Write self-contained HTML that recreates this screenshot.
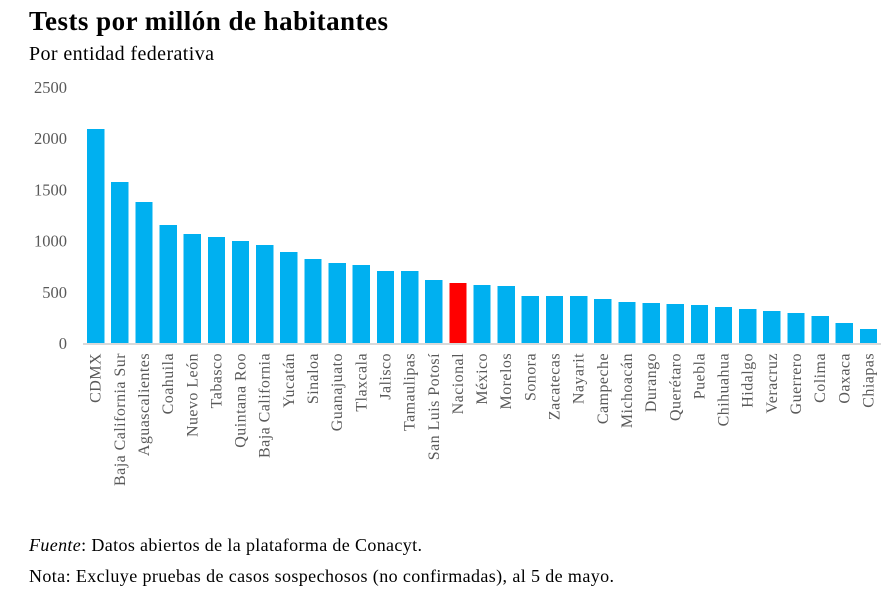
<!DOCTYPE html>
<html lang="es">
<head>
<meta charset="utf-8">
<title>Tests por millón de habitantes</title>
<style>
html,body{margin:0;padding:0;background:#fff;}
#chart{display:block;width:894px;height:595px;font-family:"Liberation Serif",serif;}
</style>
</head>
<body>
<svg id="chart" xmlns="http://www.w3.org/2000/svg" width="894" height="595" viewBox="0 0 894 595">
<text x="29" y="30" font-size="27" font-weight="bold" fill="#000" textLength="359" lengthAdjust="spacing">Tests por millón de habitantes</text>
<text x="29" y="60" font-size="20" fill="#000" textLength="185" lengthAdjust="spacing">Por entidad federativa</text>
<g id="y-axis"></g>
<g id="bars"></g>
<rect x="83" y="343" width="798" height="2" fill="#d9d9d9"></rect>
<g id="x-axis"></g>
<text x="29" y="551" font-size="18" fill="#000" textLength="393" lengthAdjust="spacing"><tspan font-style="italic">Fuente</tspan>: Datos abiertos de la plataforma de Conacyt.</text>
<text x="29" y="582" font-size="18" fill="#000" textLength="585" lengthAdjust="spacing">Nota: Excluye pruebas de casos sospechosos (no confirmadas), al 5 de mayo.</text>
</svg>
<script>
const categories = ["CDMX","Baja California Sur","Aguascalientes","Coahuila","Nuevo León","Tabasco","Quintana Roo","Baja California","Yucatán","Sinaloa","Guanajuato","Tlaxcala","Jalisco","Tamaulipas","San Luis Potosí","Nacional","México","Morelos","Sonora","Zacatecas","Nayarit","Campeche","Michoacán","Durango","Querétaro","Puebla","Chihuahua","Hidalgo","Veracruz","Guerrero","Colima","Oaxaca","Chiapas"];
const testsPerMillion = [2090,1572,1377,1152,1064,1035,996,957,889,820,781,762,703,703,615,586,566,557,459,459,459,430,400,391,381,371,352,332,312,293,264,195,137];
const highlightCategory = "Nacional";
const yTicks = [0,500,1000,1500,2000,2500];

const SVG_NS = "http://www.w3.org/2000/svg";
const plotLeft = 87, bandStep = 24.15, barWidth = 17.3, baseY = 343, pxPerUnit = 0.1024;
function xScale(i){ return plotLeft + bandStep * i; }
function yScale(v){ return baseY - v * pxPerUnit; }

const yGroup = document.getElementById("y-axis");
yTicks.forEach(function(t){
  const el = document.createElementNS(SVG_NS, "text");
  
  
  el.setAttribute("x", 67);
  el.setAttribute("y", yScale(t) + 6);
  el.setAttribute("text-anchor", "end");
  el.setAttribute("font-size", "16.5");
  el.setAttribute("fill", "#595959");
  el.textContent = String(t);
  yGroup.appendChild(el);
});

const barGroup = document.getElementById("bars");
const xGroup = document.getElementById("x-axis");
categories.forEach(function(name, i){
  const rect = document.createElementNS(SVG_NS, "rect");
  
  
  rect.setAttribute("x", xScale(i));
  rect.setAttribute("y", yScale(testsPerMillion[i]));
  rect.setAttribute("width", barWidth);
  rect.setAttribute("height", baseY - yScale(testsPerMillion[i]));
  rect.setAttribute("fill", name === highlightCategory ? "#ff0000" : "#00b0f0");
  rect.setAttribute("shape-rendering", "crispEdges");
  barGroup.appendChild(rect);

  const cx = xScale(i) + barWidth / 2 + 5;
  const label = document.createElementNS(SVG_NS, "text");
  
  
  label.setAttribute("transform", "translate(" + cx + ",353) rotate(-90)");
  label.setAttribute("text-anchor", "end");
  label.setAttribute("font-size", "16");
  label.setAttribute("letter-spacing", "0.45");
  label.setAttribute("fill", "#595959");
  label.textContent = name;
  xGroup.appendChild(label);
});
</script>
</body>
</html>
